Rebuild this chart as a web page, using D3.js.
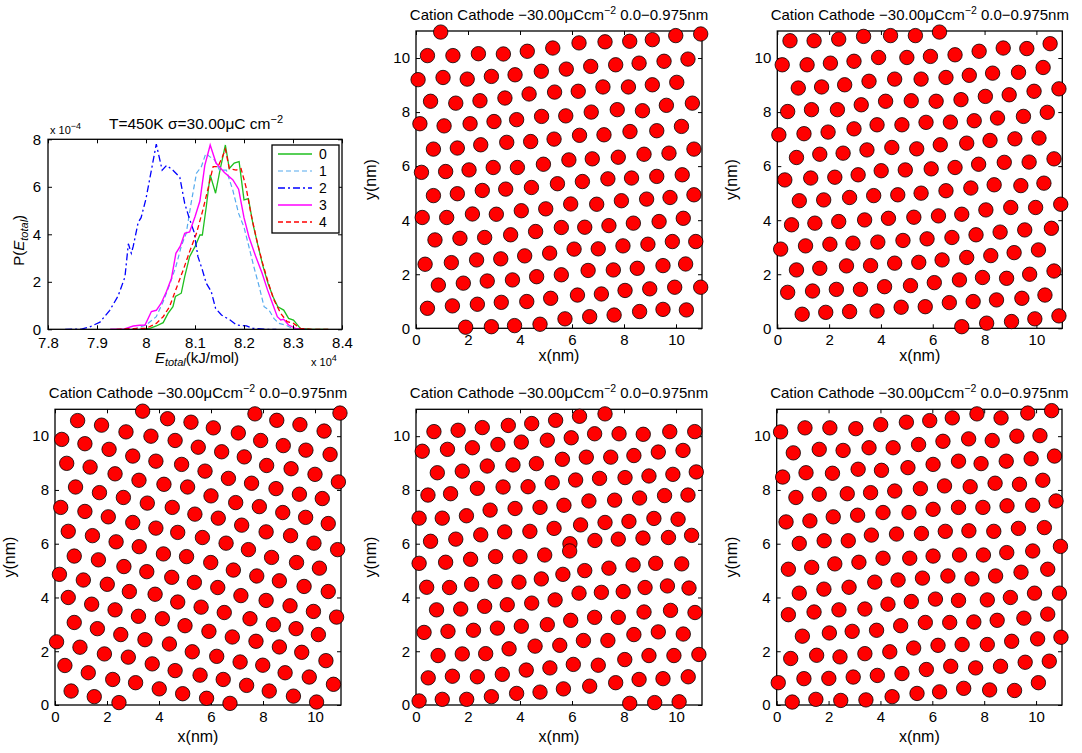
<!DOCTYPE html>
<html><head><meta charset="utf-8">
<script src="https://cdn.jsdelivr.net/npm/d3@7"></script>
<style>body{margin:0;background:#fff}svg{display:block}text{font-family:"Liberation Sans",Arial,sans-serif;fill:#000}</style>
</head><body><svg id="c" width="1082" height="753"></svg>
<script>
// ---------------- DATA ----------------
const histXTicks = [7.8, 7.9, 8.0, 8.1, 8.2, 8.3, 8.4];
const histYTicks = [0, 2, 4, 6, 8];
const seriesNames = ["0", "1", "2", "3", "4"];
const histTitle = "T=450K \u03c3=30.00\u03bcC cm";
// energy in 1e4 kJ/mol, probability in 1e-4
const hist0 = [[7.987,0],[8.008,0.04],[8.021,0.14],[8.035,0.28],[8.045,0.67],[8.055,0.95],[8.06,1.38],[8.072,1.52],[8.079,2.22],[8.089,3.06],[8.1,3.48],[8.11,3.97],[8.115,3.97],[8.123,5.16],[8.131,6.5],[8.142,5.73],[8.151,6.7],[8.162,7.76],[8.17,6.77],[8.18,7.0],[8.19,7.06],[8.2,5.45],[8.209,5.5],[8.218,4.46],[8.229,3.48],[8.239,2.64],[8.249,1.94],[8.259,1.38],[8.269,0.95],[8.281,0.81],[8.291,0.46],[8.301,0.39],[8.315,0.04],[8.338,0],[8.372,0]];
const hist1 = [[7.974,0],[8.0,0.18],[8.021,0.53],[8.035,1.16],[8.048,1.87],[8.061,2.64],[8.072,3.5],[8.082,4.04],[8.092,5.3],[8.103,6.57],[8.113,6.85],[8.122,7.4],[8.13,7.27],[8.14,7.13],[8.15,6.7],[8.164,6.7],[8.177,5.87],[8.189,4.88],[8.2,4.3],[8.21,3.48],[8.22,2.64],[8.231,1.8],[8.241,0.95],[8.251,0.81],[8.261,0.46],[8.271,0.25],[8.285,0.18],[8.298,0.04],[8.312,0]];
const hist2 = [[7.835,0],[7.868,0.01],[7.885,0.1],[7.906,0.3],[7.926,0.8],[7.943,1.4],[7.957,2.2],[7.964,3.6],[7.97,3.2],[7.974,3.5],[7.984,4.5],[7.99,4.7],[8.0,5.5],[8.011,6.7],[8.021,7.8],[8.033,6.7],[8.042,6.9],[8.055,6.7],[8.069,6.4],[8.079,5.3],[8.088,4.7],[8.098,4.1],[8.106,3.06],[8.115,2.5],[8.123,1.94],[8.133,1.6],[8.142,0.88],[8.154,0.6],[8.171,0.4],[8.185,0.18],[8.205,0.14],[8.218,0.04],[8.246,0],[8.266,0]];
const hist3 = [[7.927,0],[7.953,0],[7.974,0.14],[7.987,0.17],[7.998,0.18],[8.011,0.75],[8.021,0.8],[8.031,1.1],[8.042,1.6],[8.052,2.15],[8.061,3.2],[8.07,3.5],[8.079,4.04],[8.089,4.1],[8.1,4.74],[8.11,5.4],[8.12,6.9],[8.131,7.76],[8.143,7.0],[8.16,6.6],[8.177,6.3],[8.189,5.9],[8.2,4.7],[8.21,3.9],[8.224,3.06],[8.237,2.36],[8.248,1.66],[8.258,1.1],[8.268,0.53],[8.275,0.39],[8.281,0.42],[8.291,0.18],[8.305,0.04],[8.325,0]];
const hist4 = [[7.94,0],[7.974,0.03],[8.0,0.04],[8.021,0.25],[8.035,0.53],[8.048,0.95],[8.062,1.73],[8.076,2.5],[8.089,3.27],[8.103,4.04],[8.116,5.02],[8.126,5.87],[8.137,6.85],[8.147,6.85],[8.156,7.27],[8.162,7.58],[8.17,6.77],[8.184,6.7],[8.194,6.77],[8.204,6.0],[8.214,4.88],[8.226,3.76],[8.237,2.85],[8.249,2.0],[8.261,1.24],[8.275,0.67],[8.288,0.32],[8.301,0.25],[8.315,0.04],[8.338,0],[8.378,0]];

const scatterTitle = "Cation Cathode \u221230.00\u03bcCcm";
const scatterTicks = [0, 2, 4, 6, 8, 10];
// ion positions (nm) in each snapshot
const posA = [[0.95,10.96],[0.44,10.09],[1.42,10.09],[2.40,10.16],[3.36,10.15],[4.28,10.25],[5.26,10.37],[6.27,10.56],[7.27,10.6],[8.22,10.62],[9.09,10.68],[9.99,10.83],[10.95,10.89],
[0.08,9.2],[1.04,9.28],[1.97,9.22],[2.90,9.32],[3.81,9.38],[4.82,9.51],[5.78,9.59],[6.72,9.69],[7.68,9.75],[8.58,9.81],[9.54,9.88],[10.46,9.96],
[0.56,8.40],[1.53,8.33],[2.46,8.42],[3.42,8.52],[4.35,8.67],[5.33,8.74],[6.24,8.77],[7.19,8.93],[8.17,8.93],[9.09,9.01],[10.03,9.10],
[10.63,8.33],[9.63,8.25],[8.71,8.05],[7.74,8.09],[6.74,8.0],[5.76,7.86],[4.83,7.84],[3.87,7.72],[3.0,7.65],[2.08,7.57],[1.08,7.49],[0.15,7.57],
[0.67,6.63],[1.59,6.67],[2.49,6.79],[3.49,6.88],[4.41,6.91],[5.31,7.0],[6.29,7.14],[7.23,7.16],[8.23,7.28],[9.26,7.31],[10.21,7.47],
[10.69,6.63],[9.73,6.48],[8.77,6.44],[7.78,6.33],[6.78,6.27],[5.88,6.23],[4.90,6.07],[3.90,5.95],[2.97,5.95],[2.04,5.86],[1.14,5.80],[0.21,5.77],
[0.67,4.91],[1.59,4.98],[2.55,5.10],[3.45,5.15],[4.44,5.21],[5.44,5.35],[6.40,5.43],[7.38,5.53],[8.29,5.56],[9.26,5.62],[10.24,5.68],
[10.69,4.94],[9.77,4.84],[8.87,4.78],[7.90,4.72],[6.95,4.59],[5.95,4.60],[4.99,4.42],[4.05,4.35],[3.09,4.22],[2.17,4.23],[1.18,4.10],[0.24,4.10],
[0.73,3.27],[1.69,3.33],[2.64,3.36],[3.64,3.46],[4.60,3.58],[5.59,3.73],[6.49,3.74],[7.42,3.80],[8.36,3.89],[9.35,3.95],[10.28,4.07],
[0.35,2.37],[1.36,2.43],[2.33,2.53],[3.26,2.57],[4.18,2.68],[5.14,2.78],[6.08,2.93],[7.01,2.94],[7.96,3.05],[8.92,3.11],[9.86,3.21],[10.76,3.21],
[0.86,1.60],[1.82,1.67],[2.74,1.75],[3.71,1.79],[4.64,1.91],[5.59,1.98],[6.62,2.14],[7.59,2.16],[8.51,2.22],[9.50,2.32],[10.37,2.38],
[0.44,0.74],[1.40,0.83],[2.36,0.89],[3.28,0.96],[4.26,0.99],[5.18,1.11],[6.21,1.23],[7.13,1.27],[8.04,1.40],[8.99,1.46],[9.95,1.52],[10.95,1.52],
[1.91,0.04],[2.90,0.06],[3.79,0.10],[4.77,0.15],[5.73,0.35],[6.68,0.43],[7.62,0.49],[8.60,0.62],[9.50,0.70],[10.40,0.68]];
const posB = [[0.49,10.64],[1.42,10.64],[2.37,10.70],[3.33,10.80],[4.37,10.83],[5.33,10.83],[6.26,10.96],
[0.19,9.75],[1.15,9.75],[2.05,9.81],[2.96,9.88],[3.91,10.02],[5.0,10.02],[5.91,10.06],[6.86,10.12],[7.79,10.25],[8.72,10.37],[9.63,10.35],[10.53,10.53],
[0.81,8.89],[1.71,8.93],[2.60,9.01],[3.54,9.14],[4.53,9.22],[5.55,9.22],[6.51,9.28],[7.41,9.36],[8.31,9.44],[9.31,9.47],[10.26,9.65],
[0.40,8.02],[1.32,8.09],[2.32,8.09],[3.24,8.27],[4.18,8.40],[5.17,8.42],[6.13,8.40],[7.09,8.46],[8.03,8.58],[8.95,8.64],[9.91,8.77],[10.87,8.86],
[0.06,7.16],[1.03,7.20],[1.96,7.26],[2.96,7.38],[3.85,7.53],[4.81,7.53],[5.74,7.62],[6.68,7.63],[7.60,7.68],[8.50,7.78],[9.50,7.84],[10.42,7.99],
[0.74,6.32],[1.64,6.44],[2.54,6.48],[3.46,6.60],[4.42,6.69],[5.38,6.64],[6.29,6.79],[7.31,6.85],[8.21,6.95],[9.17,7.01],[10.10,7.04],
[0.29,5.49],[1.29,5.56],[2.22,5.59],[3.12,5.68],[4.01,5.83],[4.94,5.86],[5.94,5.90],[6.86,5.95],[7.77,6.07],[8.76,6.14],[9.72,6.15],[10.68,6.27],
[0.85,4.72],[1.79,4.75],[2.79,4.84],[3.72,4.91],[4.65,4.94],[5.55,5.0],[6.51,5.09],[7.47,5.19],[8.37,5.31],[9.40,5.28],[10.29,5.37],[10.94,4.59],
[0.55,3.83],[1.45,3.89],[2.37,3.95],[3.37,4.01],[4.29,4.07],[5.27,4.11],[6.22,4.16],[7.12,4.22],[8.05,4.38],[9.01,4.47],[9.97,4.47],[10.58,3.70],
[0.13,2.93],[1.09,3.05],[2.03,3.11],[2.92,3.15],[3.88,3.19],[4.85,3.25],[5.78,3.31],[6.74,3.36],[7.67,3.46],[8.60,3.56],[9.55,3.64],[10.08,2.90],
[0.74,2.16],[1.64,2.22],[2.67,2.31],[3.60,2.32],[4.53,2.41],[5.46,2.44],[6.36,2.53],[7.31,2.62],[8.24,2.69],[9.14,2.80],[10.68,2.12],
[0.40,1.33],[1.36,1.38],[2.28,1.44],[3.21,1.44],[4.14,1.54],[5.14,1.58],[6.06,1.69],[7.03,1.79],[7.92,1.88],[8.85,1.85],[9.74,2.0],[10.33,1.23],
[0.96,0.52],[1.87,0.59],[2.79,0.62],[3.85,0.64],[4.78,0.78],[5.71,0.80],[6.64,0.95],[7.56,0.99],[8.46,1.05],[9.44,1.11],[10.87,0.46],
[7.12,0.06],[8.08,0.19],[9.04,0.25],[9.94,0.35]];
const posC = [[3.37,10.93],[7.69,10.83],[10.96,10.86],[0.87,10.58],[1.79,10.41],[4.33,10.65],[5.23,10.52],[6.09,10.31],[8.53,10.59],[9.42,10.43],[10.35,10.19],[2.73,10.16],[3.69,10.0],[7.05,10.12],
[0.26,9.88],[1.15,9.72],[2.08,9.51],[4.62,9.84],[5.51,9.59],[6.41,9.42],[7.91,9.84],[8.78,9.65],[9.65,9.48],[10.58,9.32],[2.99,9.26],[3.88,9.07],[7.28,9.23],
[0.45,8.99],[1.35,8.85],[2.31,8.60],[3.23,8.36],[4.87,8.95],[5.77,8.70],[6.67,8.43],[8.14,8.91],[9.08,8.79],[10.0,8.58],[10.90,8.30],[4.19,8.21],[5.10,8.11],[7.56,8.25],
[0.79,8.11],[1.71,7.90],[2.63,7.72],[3.55,7.51],[6.0,7.78],[6.95,7.53],[8.50,8.05],[9.40,7.84],[10.28,7.68],[0.22,7.35],[1.15,7.20],[4.51,7.35],[5.38,7.10],[7.86,7.38],[8.76,7.16],[9.64,6.98],[10.51,6.75],
[2.05,7.0],[2.99,6.79],[3.88,6.58],[6.28,6.95],[7.18,6.69],[8.12,6.44],[0.51,6.46],[1.44,6.30],[4.72,6.42],[5.67,6.23],[2.35,6.07],[3.24,5.89],[6.58,6.02],[9.06,6.30],[9.96,6.02],[10.87,5.78],[7.44,5.78],
[0.74,5.54],[1.67,5.40],[4.17,5.62],[5.06,5.52],[5.99,5.30],[8.33,5.49],[9.29,5.30],[10.17,5.09],[2.65,5.15],[3.53,4.96],
[0.17,4.86],[1.09,4.65],[2.01,4.49],[2.86,4.22],[3.85,4.12],[4.49,4.75],[5.36,4.56],[6.26,4.37],[6.86,5.02],[7.76,4.80],[8.63,4.62],[9.58,4.41],[10.51,4.22],
[0.51,4.0],[1.41,3.75],[2.31,3.54],[3.21,3.30],[4.72,3.83],[5.62,3.64],[6.51,3.44],[7.15,4.07],[8.12,3.89],[9.04,3.69],[9.94,3.48],[10.83,3.27],
[0.74,3.07],[1.63,2.84],[2.53,2.62],[3.46,2.43],[4.13,3.21],[5.0,2.95],[5.92,2.74],[6.82,2.53],[7.50,3.21],[8.40,2.99],[9.27,2.84],[10.13,2.62],
[0.06,2.35],[0.96,2.15],[1.90,1.90],[2.82,1.78],[4.40,2.27],[5.28,1.98],[6.22,1.81],[7.73,2.37],[8.63,2.16],[9.49,1.96],[10.42,1.65],
[0.38,1.47],[1.28,1.20],[2.22,0.95],[3.10,0.83],[3.74,1.53],[4.62,1.28],[5.58,1.11],[6.47,0.95],[7.12,1.60],[7.99,1.48],[8.85,1.20],[9.78,1.04],[10.71,0.77],
[0.62,0.52],[1.51,0.31],[2.46,0.09],[4.01,0.60],[4.91,0.42],[5.83,0.25],[6.73,0.06],[7.37,0.73],[8.24,0.52],[9.17,0.33],[10.06,0.11]];
const posD = [[7.27,10.83],[6.29,10.74],[5.37,10.59],[4.45,10.47],[3.55,10.40],[2.55,10.32],[1.62,10.22],[0.69,10.17],[7.81,10.09],[8.74,10.07],[9.76,10.17],[10.72,10.17],
[0.24,9.44],[1.21,9.51],[2.17,9.57],[3.15,9.69],[4.05,9.78],[5.05,9.85],[5.97,9.94],[6.87,10.09],[7.49,9.22],[8.38,9.28],[9.32,9.41],[10.27,9.47],[6.55,9.22],[5.63,9.14],
[0.82,8.64],[1.78,8.70],[2.74,8.89],[3.73,8.93],[4.63,8.98],[8.04,8.46],[8.96,8.52],[9.88,8.58],[10.78,8.67],[6.14,8.37],[7.06,8.43],[5.24,8.27],
[0.46,7.81],[1.33,7.86],[2.36,8.06],[3.35,8.11],[4.31,8.12],[5.69,7.43],[6.65,7.59],[7.64,7.62],[8.60,7.70],[9.56,7.79],[10.46,7.81],
[0.12,6.95],[1.01,6.95],[1.94,7.04],[2.85,7.25],[3.81,7.31],[4.77,7.35],[6.33,6.70],[7.27,6.79],[8.19,6.83],[9.15,6.94],[10.08,6.91],
[0.56,6.09],[1.53,6.17],[2.49,6.33],[3.41,6.44],[4.38,6.46],[5.31,6.57],[5.92,6.0],[6.88,6.12],[7.78,6.17],[8.73,6.21],[9.71,6.23],[10.60,6.31],
[0.12,5.27],[1.14,5.31],[2.10,5.42],[3.06,5.52],[4.0,5.52],[4.95,5.58],[5.91,5.73],[5.65,4.86],[6.49,5.0],[7.42,5.09],[8.35,5.21],[9.22,5.27],[10.22,5.25],
[0.41,4.38],[1.29,4.37],[2.14,4.49],[3.04,4.59],[3.96,4.57],[4.82,4.69],[5.35,3.91],[6.27,4.16],[7.13,4.19],[7.97,4.22],[8.81,4.37],[9.67,4.43],[10.50,4.35],
[0.79,3.54],[1.72,3.57],[2.64,3.67],[3.51,3.73],[4.45,3.79],[5.95,3.15],[6.87,3.26],[7.78,3.26],[8.77,3.46],[9.79,3.52],[10.73,3.44],
[0.31,2.70],[1.23,2.74],[2.21,2.78],[3.13,2.86],[4.05,2.93],[5.05,2.99],[6.44,2.40],[7.38,2.40],[8.38,2.62],[9.32,2.72],[10.28,2.64],
[0.85,1.84],[1.78,1.90],[2.68,1.91],[3.58,2.09],[4.58,2.19],[5.53,2.22],[8.03,1.69],[8.96,1.84],[9.92,1.84],[10.88,1.88],
[0.47,1.01],[1.40,1.07],[2.36,1.05],[3.32,1.14],[4.24,1.30],[5.15,1.38],[6.05,1.51],[7.01,1.48],[7.68,0.83],[8.58,0.95],[9.50,0.98],[10.47,1.05],
[0.12,0.15],[1.01,0.21],[1.95,0.21],[2.90,0.31],[3.87,0.43],[4.77,0.48],[5.67,0.60],[6.68,0.70],[8.22,0.06],[9.18,0.09],[10.12,0.12]];
const posE = [[0.15,10.16],[1.09,10.31],[2.05,10.31],[3.05,10.28],[4.01,10.43],[5.0,10.52],[5.90,10.58],[6.77,10.68],[7.72,10.83],[8.65,10.68],[9.68,10.86],[10.60,10.95],
[0.64,9.38],[1.64,9.51],[2.56,9.47],[3.56,9.57],[4.49,9.57],[5.47,9.69],[6.41,9.81],[7.40,9.90],[8.31,9.84],[9.26,10.0],[10.15,10.02],
[0.23,8.48],[1.13,8.64],[2.15,8.62],[3.14,8.77],[4.04,8.73],[5.06,8.83],[6.03,8.95],[7.01,9.07],[7.88,8.98],[8.85,9.07],[9.81,9.16],[10.71,9.26],
[0.74,7.72],[1.64,7.84],[2.72,7.86],[3.62,7.90],[4.55,7.96],[5.54,8.05],[6.47,8.15],[7.46,8.12],[8.42,8.25],[9.36,8.21],[10.26,8.36],[10.77,7.59],
[0.36,6.81],[1.28,6.85],[2.18,7.0],[3.12,7.06],[4.10,7.16],[5.10,7.16],[6.03,7.28],[7.01,7.35],[7.95,7.35],[8.88,7.41],[9.87,7.43],
[0.87,6.01],[1.83,6.11],[2.76,6.11],[3.65,6.32],[4.62,6.36],[5.58,6.38],[6.50,6.46],[7.41,6.48],[8.37,6.46],[9.32,6.57],[10.32,6.60],[10.94,5.9],
[0.45,5.05],[1.35,5.12],[2.24,5.25],[3.17,5.31],[4.10,5.46],[5.13,5.46],[6.03,5.54],[7.05,5.58],[7.97,5.58],[8.87,5.67],[9.87,5.73],
[10.45,5.05],[9.42,4.94],[8.44,4.80],[7.53,4.69],[6.60,4.80],[5.62,4.72],[4.68,4.65],[3.78,4.57],[2.79,4.38],[1.82,4.31],[0.87,4.16],
[10.90,4.16],[9.94,4.16],[9.01,4.0],[8.12,3.91],[7.01,3.89],[6.12,3.94],[5.19,3.85],[4.29,3.75],[3.40,3.57],[2.40,3.54],[1.44,3.46],[0.45,3.36],
[10.45,3.38],[9.53,3.23],[8.50,3.15],[7.60,3.09],[6.67,3.07],[5.73,3.07],[4.78,2.95],[3.85,2.78],[2.91,2.74],[2.03,2.68],[0.99,2.56],[10.96,2.52],
[10.06,2.46],[9.06,2.37],[8.12,2.25],[7.15,2.25],[6.22,2.22],[5.28,2.12],[4.36,1.98],[3.40,1.91],[2.44,1.79],[1.54,1.85],[0.54,1.73],
[10.51,1.63],[9.58,1.59],[8.63,1.44],[7.67,1.38],[6.71,1.44],[5.77,1.32],[4.83,1.17],[3.88,1.10],[2.95,1.04],[2.01,0.99],[1.05,0.98],[0.06,0.83],
[10.09,0.83],[9.17,0.54],[8.21,0.56],[7.21,0.62],[6.28,0.49],[5.41,0.43],[4.45,0.31],[3.44,0.19],[2.47,0.17],[1.51,0.21],[0.60,0.11]];

// ---------------- LAYOUT ----------------
const FONT = 15;
const svg = d3.select("#c");
const histBox = {l: 48, r: 342, t: 139.3, b: 329.3};
const panels = [
  {data: posA, l: 416, r: 702, t: 31, b: 328.3, xl: 33},
  {data: posB, l: 777.3, r: 1062.3, t: 31, b: 328.3, xl: 33},
  {data: posC, l: 55, r: 341, t: 409.3, b: 705, xl: 37},
  {data: posD, l: 416, r: 702, t: 409.3, b: 705, xl: 37},
  {data: posE, l: 776.7, r: 1062, t: 409.3, b: 705, xl: 37}
];

function boxAxes(g, x, y, xt, yt, fmt, xpad, ypad) {
  const bx = x.range(), by = y.range();
  const ax = g.append("g").attr("transform", `translate(0,${by[0]})`)
    .call(d3.axisBottom(x).tickValues(xt).tickFormat(fmt).tickSizeInner(-4).tickSizeOuter(0).tickPadding(xpad));
  const axT = g.append("g").attr("transform", `translate(0,${by[1]})`)
    .call(d3.axisTop(x).tickValues(xt).tickFormat("").tickSizeInner(-4).tickSizeOuter(0));
  const ay = g.append("g").attr("transform", `translate(${bx[0]},0)`)
    .call(d3.axisLeft(y).tickValues(yt).tickFormat(fmt).tickSizeInner(-4).tickSizeOuter(0).tickPadding(ypad));
  const ayR = g.append("g").attr("transform", `translate(${bx[1]},0)`)
    .call(d3.axisRight(y).tickValues(yt).tickFormat("").tickSizeInner(-4).tickSizeOuter(0));
  [ax, axT, ay, ayR].forEach(a => {
    a.select(".domain").remove();
    a.selectAll("line").attr("stroke", "#000").attr("stroke-width", 1);
    a.selectAll("text").attr("font-size", FONT).attr("font-family", '"Liberation Sans",Arial,sans-serif');
  });
  g.append("rect").attr("x", bx[0]).attr("y", by[1]).attr("width", bx[1]-bx[0]).attr("height", by[0]-by[1])
    .attr("fill", "none").attr("stroke", "#000").attr("stroke-width", 1.3);
}

// ---------- histogram panel ----------
{
  const g = svg.append("g");
  const x = d3.scaleLinear().domain([7.8, 8.4]).range([histBox.l, histBox.r]);
  const y = d3.scaleLinear().domain([0, 8]).range([histBox.b, histBox.t]);
  const series = [hist0, hist1, hist2, hist3, hist4];
  const styles = [
    {c: "#1fbf1f", d: null, w: 1.3},
    {c: "#55aaee", d: "5,3", w: 1.2},
    {c: "#0000ff", d: "7,3,2,3", w: 1.3},
    {c: "#ff00ff", d: null, w: 1.4},
    {c: "#ff0000", d: "5,3", w: 1.3}
  ];
  const line = d3.line().x(d => x(d[0])).y(d => y(d[1]));
  series.forEach((s, i) => {
    g.append("path").datum(s).attr("d", line).attr("fill", "none")
      .attr("stroke", styles[i].c).attr("stroke-width", styles[i].w)
      .attr("stroke-dasharray", styles[i].d);
  });
  boxAxes(g, x, y, histXTicks, histYTicks, d => String(+d.toFixed(1)), 8, 7);
  // title
  const t = g.append("text").attr("x", (histBox.l + histBox.r)/2 + 1).attr("y", 129).attr("text-anchor", "middle").attr("font-size", 15.5);
  t.append("tspan").text(histTitle);
  t.append("tspan").attr("dy", -6).attr("font-size", 11).text("\u22122");
  // exponent labels
  const e1 = g.append("text").attr("x", histBox.l + 2).attr("y", 134).attr("font-size", 11);
  e1.append("tspan").text("x 10");
  e1.append("tspan").attr("dy", -5).attr("font-size", 9).text("\u22124");
  const e2 = g.append("text").attr("x", 311).attr("y", 366).attr("font-size", 11);
  e2.append("tspan").text("x 10");
  e2.append("tspan").attr("dy", -5).attr("font-size", 9).text("4");
  // x label
  const xl = g.append("text").attr("x", (histBox.l + histBox.r)/2 + 2).attr("y", 363).attr("text-anchor", "middle").attr("font-size", FONT);
  xl.append("tspan").attr("font-style", "italic").text("E");
  xl.append("tspan").attr("font-style", "italic").attr("font-size", 11).attr("dy", 3).text("total");
  xl.append("tspan").attr("dy", -3).text("(kJ/mol)");
  // y label
  const yl = g.append("text").attr("transform", `translate(24,${(histBox.t+histBox.b)/2 + 6}) rotate(-90)`).attr("text-anchor", "middle").attr("font-size", FONT);
  yl.append("tspan").text("P(");
  yl.append("tspan").attr("font-style", "italic").text("E");
  yl.append("tspan").attr("font-style", "italic").attr("font-size", 11).attr("dy", 4).text("total");
  yl.append("tspan").attr("dy", -4).text(")");
  // legend
  const lg = g.append("g");
  lg.append("rect").attr("x", 272).attr("y", 145).attr("width", 67).attr("height", 88)
    .attr("fill", "#fff").attr("stroke", "#000").attr("stroke-width", 1.3);
  seriesNames.forEach((n, i) => {
    const yy = 154 + i * 17;
    lg.append("line").attr("x1", 278).attr("x2", 312).attr("y1", yy).attr("y2", yy)
      .attr("stroke", styles[i].c).attr("stroke-width", styles[i].w).attr("stroke-dasharray", styles[i].d);
    lg.append("text").attr("x", 319).attr("y", yy + 5).attr("font-size", 14).text(n);
  });
}

// ---------- scatter panels ----------
panels.forEach(p => {
  const g = svg.append("g");
  const x = d3.scaleLinear().domain([0, 11]).range([p.l, p.r]);
  const y = d3.scaleLinear().domain([0, 11]).range([p.b, p.t]);
  boxAxes(g, x, y, scatterTicks, scatterTicks, d => String(d), 6, 6);
  g.append("g").selectAll("circle").data(p.data).join("circle")
    .attr("cx", d => x(d[0])).attr("cy", d => y(d[1])).attr("r", 7.2)
    .attr("fill", "#ff0000").attr("stroke", "#000").attr("stroke-width", 0.8);
  const cx = (p.l + p.r)/2;
  const t = g.append("text").attr("x", cx).attr("y", p.t - 11).attr("text-anchor", "middle").attr("font-size", 15);
  t.append("tspan").text(scatterTitle);
  t.append("tspan").attr("dy", -6).attr("font-size", 10.5).text("\u22122");
  t.append("tspan").attr("dy", 6).text(" 0.0\u22120.975nm");
  g.append("text").attr("x", cx).attr("y", p.b + p.xl).attr("text-anchor", "middle").attr("font-size", 16).text("x(nm)");
  g.append("text").attr("transform", `translate(${p.l - 40},${(p.t+p.b)/2}) rotate(-90)`)
    .attr("text-anchor", "middle").attr("font-size", 16).text("y(nm)");
});
</script></body></html>
